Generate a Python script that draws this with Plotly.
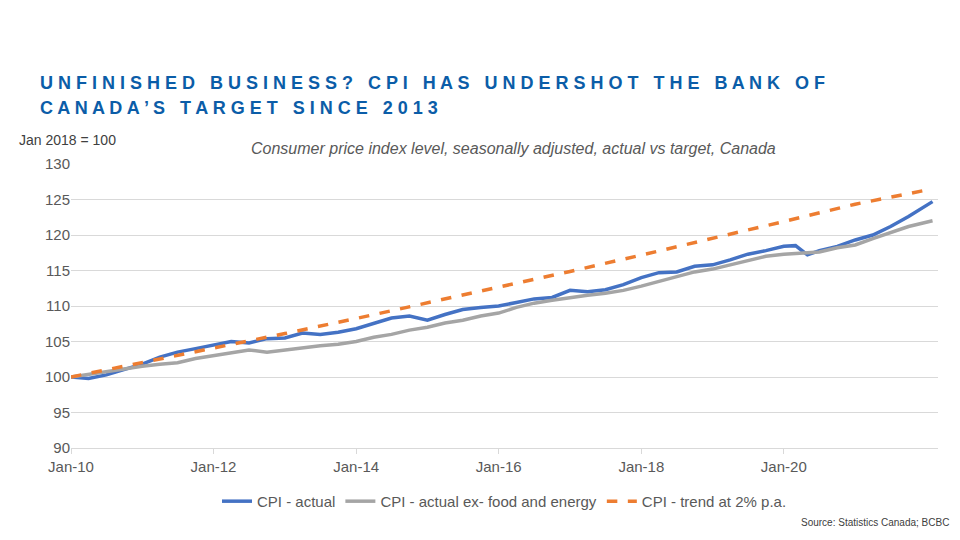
import plotly.graph_objects as go

q_dates = ["2010-01-01", "2010-04-01", "2010-07-01", "2010-10-01", "2011-01-01", "2011-04-01", "2011-07-01", "2011-10-01",
           "2012-01-01", "2012-04-01", "2012-07-01", "2012-10-01", "2013-01-01", "2013-04-01", "2013-07-01", "2013-10-01",
           "2014-01-01", "2014-04-01", "2014-07-01", "2014-10-01", "2015-01-01", "2015-04-01", "2015-07-01", "2015-10-01",
           "2016-01-01", "2016-04-01", "2016-07-01", "2016-10-01", "2017-01-01", "2017-04-01", "2017-07-01", "2017-10-01",
           "2018-01-01", "2018-04-01", "2018-07-01", "2018-10-01", "2019-01-01", "2019-04-01", "2019-07-01", "2019-10-01",
           "2020-01-01", "2020-03-01", "2020-05-01", "2020-07-01", "2020-10-01", "2021-01-01", "2021-04-01", "2021-07-01",
           "2021-10-01", "2022-02-01"]
cpi_actual = [100, 99.8, 100.3, 101, 101.8, 102.8, 103.5, 104, 104.5, 105.0, 104.8, 105.4, 105.5, 106.2, 106.0, 106.3,
              106.8, 107.6, 108.3, 108.6, 108.0, 108.8, 109.5, 109.8, 110.0, 110.5, 111.0, 111.2, 112.2, 112.0, 112.3, 113.0,
              114.0, 114.7, 114.8, 115.6, 115.8, 116.5, 117.3, 117.8, 118.4, 118.5, 117.2, 117.8, 118.4, 119.3, 120.0, 121.2,
              122.6, 124.7]
cpi_core = [100, 100.4, 100.8, 101.2, 101.5, 101.8, 102.0, 102.6, 103.0, 103.3, 103.8, 103.5, 103.8, 104.2, 104.4, 104.6,
            105.0, 105.6, 106.0, 106.6, 107.0, 107.6, 108.0, 108.6, 109.0, 109.8, 110.4, 110.8, 111.2, 111.5, 111.8, 112.2,
            112.8, 113.5, 114.2, 114.8, 115.2, 115.8, 116.5, 117.0, 117.3, 117.4, 117.4, 117.6, 118.2, 118.6, 119.5, 120.4,
            121.2, 122.0]

trend_dates = ["2010-01-01", "2011-01-01", "2012-01-01", "2013-01-01", "2014-01-01", "2015-01-01", "2016-01-01",
               "2017-01-01", "2018-01-01", "2019-01-01", "2020-01-01", "2021-01-01", "2022-02-01"]
cpi_trend = [100, 102, 104.04, 106.12, 108.24, 110.41, 112.62, 114.87, 117.17, 119.51, 121.90, 124.34, 126.5]

fig = go.Figure()
fig.add_trace(go.Scatter(x=q_dates, y=cpi_actual, mode="lines", name="CPI - actual",
                         line=dict(color="#4472C4", width=3.5)))
fig.add_trace(go.Scatter(x=q_dates, y=cpi_core, mode="lines", name="CPI - actual ex- food and energy",
                         line=dict(color="#A5A5A5", width=3.5)))
fig.add_trace(go.Scatter(x=trend_dates, y=cpi_trend, mode="lines", name="CPI - trend at 2% p.a.",
                         line=dict(color="#ED7D31", width=3.5, dash="dash")))

fig.update_layout(
    width=960, height=540, plot_bgcolor="white", paper_bgcolor="white",
    margin=dict(l=63, r=30, t=156, b=100),
    font=dict(family="Arial, Liberation Sans", color="#595959", size=15),
    legend=dict(orientation="h", x=0.5, xanchor="center", y=-0.13, yanchor="top", font=dict(size=15)),
    xaxis=dict(type="date", range=["2010-01-01", "2022-03-01"], tickvals=["2010-01-01", "2012-01-01", "2014-01-01",
               "2016-01-01", "2018-01-01", "2020-01-01"], tickformat="%b-%y", showgrid=False,
               showline=True, linecolor="#D9D9D9", ticks="outside", tickcolor="#D9D9D9", ticklen=5),
    yaxis=dict(range=[90, 130], dtick=5, gridcolor="#D9D9D9", zeroline=False, ticks=""),
)
fig.add_annotation(text="<b>U N F I N I S H E D   B U S I N E S S ?   C P I   H A S   U N D E R S H O T   T H E   B A N K   O F</b>",
                   xref="paper", yref="paper", x=-0.038, y=1.326, xanchor="left", showarrow=False,
                   font=dict(size=18, color="#0B5DA8"))
fig.add_annotation(text="<b>C A N A D A ’ S   T A R G E T   S I N C E   2 0 1 3</b>",
                   xref="paper", yref="paper", x=-0.038, y=1.238, xanchor="left", showarrow=False,
                   font=dict(size=18, color="#0B5DA8"))
fig.add_annotation(text="Jan 2018 = 100", xref="paper", yref="paper", x=-0.062, y=1.12, xanchor="left",
                   showarrow=False, font=dict(size=14, color="#404040"))
fig.add_annotation(text="<i>Consumer price index level, seasonally adjusted, actual vs target, Canada</i>",
                   xref="paper", yref="paper", x=0.51, y=1.092, xanchor="center", showarrow=False,
                   font=dict(size=16, color="#595959"))
fig.add_annotation(text="Source: Statistics Canada; BCBC", xref="paper", yref="paper", x=1.015, y=-0.29,
                   xanchor="right", showarrow=False, font=dict(size=10, color="#404040"))

fig.write_html("out.html")
